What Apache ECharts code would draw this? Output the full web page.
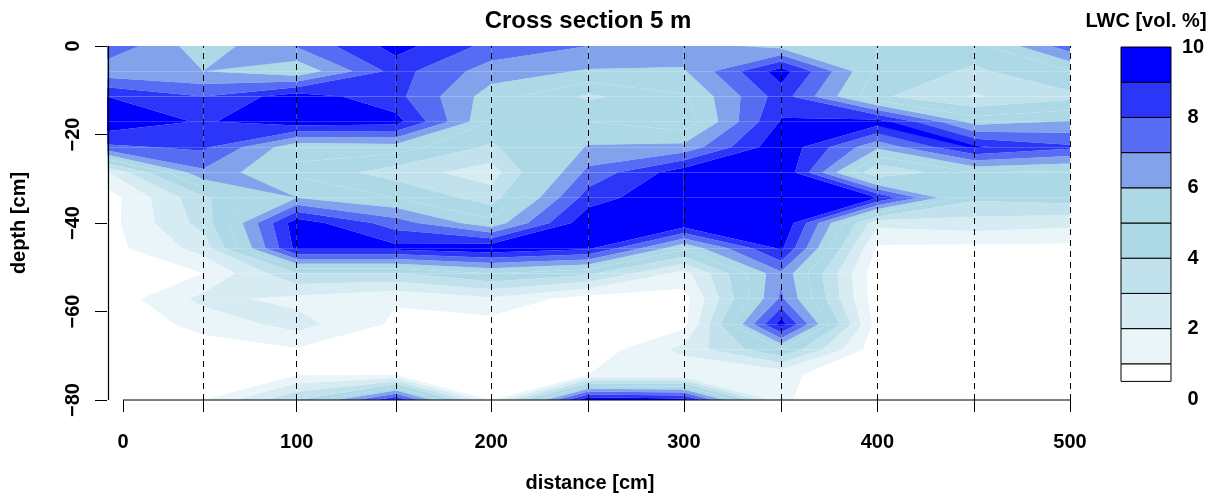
<!DOCTYPE html>
<html><head><meta charset="utf-8">
<script src="https://cdn.jsdelivr.net/npm/echarts@6/dist/echarts.min.js"></script>
<style>html,body{margin:0;padding:0;background:#fff}#c{width:1214px;height:500px}</style>
</head><body><div id="c"></div>
<script>
// ---- data ----
const distances = [0, 50, 98.5, 150, 199.5, 250, 299.5, 350, 400, 450.5, 500];
const depths = [0, -5.71, -11.43, -17.14, -22.86, -28.57, -34.29, -40, -45.71, -51.43, -57.14, -62.86, -68.57, -74.29, -80];
// LWC [vol. %], one row per depth, one value per distance
const lwc = [
  [7.8, 5.4, 7.1, 9.4, 7.7, 7.0, 6.5, 5.6, 5.0, 4.6, 7.6],
  [6.3, 6.0, 5.2, 8.4, 6.5, 5.9, 5.9, 9.5, 4.8, 3.8, 5.0],
  [9.0, 8.0, 9.6, 8.3, 5.5, 3.8, 4.9, 8.5, 4.2, 2.9, 3.7],
  [9.7, 8.9, 9.6, 9.4, 5.0, 5.0, 4.3, 9.1, 9.5, 5.6, 6.1],
  [7.8, 8.2, 5.3, 5.5, 3.8, 6.1, 6.3, 9.8, 6.2, 9.2, 8.2],
  [1.9, 6.8, 4.8, 3.5, 2.5, 7.3, 9.6, 10, 3.0, 5.0, 4.8],
  [0.5, 3.8, 6.0, 5.0, 3.5, 8.5, 10, 10, 9.0, 4.2, 4.5],
  [0.6, 3.4, 9.6, 7.5, 5.3, 9.8, 9.8, 10, 2.3, 2.6, 2.3],
  [0.6, 2.4, 9.3, 9.3, 9.8, 9.2, 5.2, 9.2, 0.8, 0.7, 0.7],
  [0.4, 1.0, 3.9, 3.9, 5.0, 4.2, 1.6, 6.8, 0.3, 0.3, 0.3],
  [0.3, 2.3, 1.7, 1.1, 1.8, 0.5, 0.6, 7.2, 0.3, 0.3, 0.3],
  [0.3, 1.3, 2.4, 0.8, 0.6, 0.3, 0.7, 9.5, 0.5, 0.3, 0.3],
  [0.3, 0.6, 0.9, 0.5, 0.3, 0.3, 2.3, 5.0, 0.3, 0.3, 0.3],
  [0.3, 0.4, 0.95, 0.95, 0.4, 1.0, 1.1, 1.2, 0.3, 0.3, 0.3],
  [0.3, 1.0, 4.0, 9.0, 0.95, 10, 9.5, 1.1, 0.3, 0.3, 0.3]
];
const levels = [0, 1, 2, 3, 4, 5, 6, 7, 8, 9, 10];
const bandColors = ['#FFFFFF', '#EAF5F9', '#D6EBF2', '#C1E2EC', '#ADD8E6', '#ADD8E6', '#82A2EC', '#566CF2', '#2B36F9', '#0000FF'];
const xTickValues = [8.3, 50, 98.5, 150, 199.5, 250, 299.5, 350, 400, 450.5, 500];
const xLabelValues = [8.3, 98.5, 199.5, 299.5, 400, 500];
const xLabelTexts = ['0', '100', '200', '300', '400', '500'];
const dashedAt = distances.slice(1);
const keyBottom = 0.5;

const FONT = '"Liberation Sans", Arial, Helvetica, sans-serif';

// ---- filled contour polygons (per cell, clipped between levels) ----
function clip(pts, level, above) {
  const out = [];
  for (let i = 0; i < pts.length; i++) {
    const a = pts[i], b = pts[(i + 1) % pts.length];
    const ia = above ? a[2] >= level : a[2] <= level;
    const ib = above ? b[2] >= level : b[2] <= level;
    if (ia) out.push(a);
    if (ia !== ib) {
      const t = (level - a[2]) / (b[2] - a[2]);
      out.push([a[0] + t * (b[0] - a[0]), a[1] + t * (b[1] - a[1]), level]);
    }
  }
  return out;
}
const polys = [];
for (let j = 0; j < depths.length - 1; j++) {
  for (let i = 0; i < distances.length - 1; i++) {
    const cell = [
      [distances[i], depths[j], lwc[j][i]],
      [distances[i + 1], depths[j], lwc[j][i + 1]],
      [distances[i + 1], depths[j + 1], lwc[j + 1][i + 1]],
      [distances[i], depths[j + 1], lwc[j + 1][i]]
    ];
    for (let k = 0; k < levels.length - 1; k++) {
      let p = clip(cell, levels[k], true);
      if (p.length < 3) continue;
      p = clip(p, levels[k + 1], false);
      if (p.length < 3) continue;
      polys.push({ band: k, pts: p });
    }
  }
}

const keyBands = bandColors.map((c, k) => [Math.max(levels[k], keyBottom), levels[k + 1], k]);

const chart = echarts.init(document.getElementById('c'), null, { renderer: 'canvas' });
const axisColor = '#000';
chart.setOption({
  animation: false,
  backgroundColor: '#fff',
  grid: [
    { left: 107, right: 144, top: 46, bottom: 100 },
    { left: 1121, width: 50, top: 47, bottom: 101 }
  ],
  xAxis: [
    {
      gridIndex: 0, type: 'value', min: 0, max: 500, z: 10,
      axisLine: { show: false, onZero: false },
      axisTick: { show: true, customValues: xTickValues, length: 12, lineStyle: { color: axisColor, width: 1 } },
      axisLabel: {
        show: true, customValues: xLabelValues, margin: 32,
        color: '#000', fontSize: 20, fontWeight: 'bold', fontFamily: FONT,
        formatter: function (v) {
          let best = 0;
          for (let i = 1; i < xLabelValues.length; i++) if (Math.abs(xLabelValues[i] - v) < Math.abs(xLabelValues[best] - v)) best = i;
          return xLabelTexts[best];
        }
      },
      splitLine: { show: false }
    },
    { gridIndex: 1, type: 'value', min: 0, max: 1, show: false }
  ],
  yAxis: [
    {
      gridIndex: 0, type: 'value', min: -80, max: 0, interval: 20, z: 10,
      axisLine: { show: false, onZero: false },
      axisTick: { show: true, length: 12, lineStyle: { color: axisColor, width: 1 } },
      axisLabel: {
        rotate: 90, margin: 24, color: '#000', fontSize: 20, fontWeight: 'bold', fontFamily: FONT,
        formatter: v => (v < 0 ? '\u2212' + Math.abs(v) : String(v))
      },
      splitLine: { show: false }
    },
    {
      gridIndex: 1, type: 'value', min: 0, max: 10, interval: 2, position: 'right',
      axisLine: { show: false }, axisTick: { show: false }, splitLine: { show: false },
      axisLabel: { margin: 22, align: 'center', color: '#000', fontSize: 20, fontWeight: 'bold', fontFamily: FONT }
    }
  ],
  graphic: [
    { type: 'text', x: 588, y: 21, style: { text: 'Cross section 5 m', fill: '#000', font: 'bold 24px ' + FONT, align: 'center', verticalAlign: 'middle' } },
    { type: 'text', x: 1146, y: 21, style: { text: 'LWC [vol. %]', fill: '#000', font: 'bold 20px ' + FONT, align: 'center', verticalAlign: 'middle' } },
    { type: 'text', x: 590, y: 483, style: { text: 'distance [cm]', fill: '#000', font: 'bold 20px ' + FONT, align: 'center', verticalAlign: 'middle' } },
    { type: 'text', x: 19, y: 223, rotation: Math.PI / 2, style: { text: 'depth [cm]', fill: '#000', font: 'bold 20px ' + FONT, align: 'center', verticalAlign: 'middle' } }
  ],
  series: [
    {
      type: 'custom', xAxisIndex: 0, yAxisIndex: 0, silent: true, z: 1,
      data: polys.map(p => [p.pts[0][0], p.pts[0][1]]),
      renderItem: function (params, api) {
        const p = polys[params.dataIndex];
        return {
          type: 'polygon',
          shape: { points: p.pts.map(q => api.coord([q[0], q[1]])) },
          style: { fill: bandColors[p.band], stroke: null }
        };
      }
    },
    {
      type: 'line', xAxisIndex: 0, yAxisIndex: 0, silent: true, z: 5, clip: false,
      symbol: 'none', data: [], lineStyle: { opacity: 0 },
      markLine: {
        silent: true, symbol: ['none', 'none'], label: { show: false },
        lineStyle: { type: [6, 5], color: '#000', width: 1 },
        emphasis: { disabled: true },
        data: [{ xAxis: 0.4, lineStyle: { type: 'solid', width: 1.2 } }].concat(dashedAt.map(v => ({ xAxis: v })))
      }
    },
    {
      // x axis line from the first tick to the last
      type: 'custom', xAxisIndex: 0, yAxisIndex: 0, silent: true, z: 20, clip: false,
      data: [[xTickValues[0], -80]],
      renderItem: function (params, api) {
        const c = api.coord([xTickValues[0], -80]), d = api.coord([xTickValues[xTickValues.length - 1], -80]);
        return { type: 'line', shape: { x1: c[0], y1: c[1], x2: d[0], y2: d[1] }, style: { stroke: axisColor, lineWidth: 1 } };
      }
    },
    {
      type: 'custom', xAxisIndex: 1, yAxisIndex: 1, silent: true, z: 2,
      data: keyBands,
      renderItem: function (params, api) {
        const lo = api.value(0), hi = api.value(1), k = api.value(2);
        const p0 = api.coord([0, hi]), p1 = api.coord([1, lo]);
        return {
          type: 'rect',
          shape: { x: p0[0], y: p0[1], width: p1[0] - p0[0], height: p1[1] - p0[1] },
          style: { fill: bandColors[k], stroke: '#000', lineWidth: 1 }
        };
      }
    }
  ]
});
</script></body></html>
